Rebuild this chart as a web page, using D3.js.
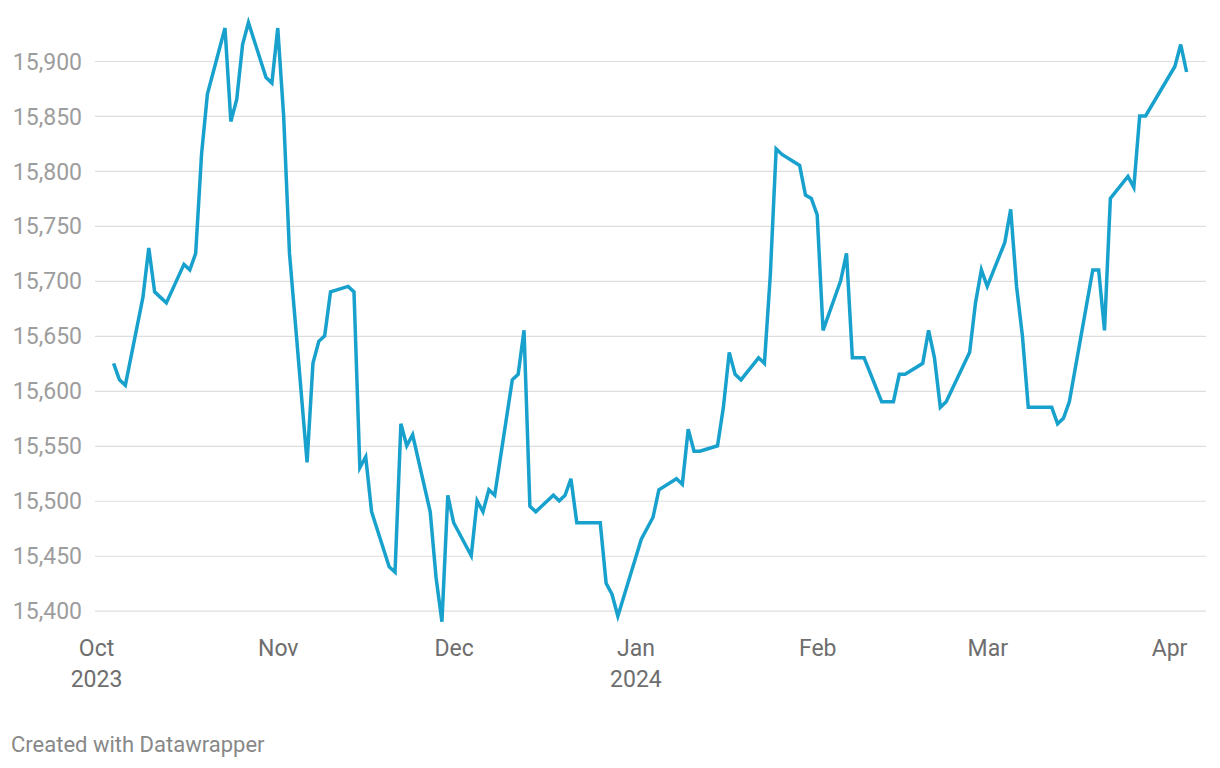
<!DOCTYPE html>
<html>
<head>
<meta charset="utf-8">
<script src="https://cdn.jsdelivr.net/npm/d3@7"></script>
<style>
  html, body { margin: 0; padding: 0; background: #fff; }
  svg { display: block; font-family: Roboto, "Noto Sans", sans-serif; }
</style>
</head>
<body>
<svg id="chart" width="1220" height="768"></svg>
<script>
// ---- data (USD/IDR-like daily series) ----
const dates = [
  "2023-10-04","2023-10-05","2023-10-06","2023-10-09","2023-10-10","2023-10-11","2023-10-12","2023-10-13",
  "2023-10-16","2023-10-17","2023-10-18","2023-10-19","2023-10-20","2023-10-23","2023-10-24","2023-10-25",
  "2023-10-26","2023-10-27","2023-10-30","2023-10-31","2023-11-01","2023-11-02","2023-11-03","2023-11-06",
  "2023-11-07","2023-11-08","2023-11-09","2023-11-10","2023-11-13","2023-11-14","2023-11-15","2023-11-16",
  "2023-11-17","2023-11-20","2023-11-21","2023-11-22","2023-11-23","2023-11-24","2023-11-27","2023-11-28",
  "2023-11-29","2023-11-30","2023-12-01","2023-12-04","2023-12-05","2023-12-06","2023-12-07","2023-12-08",
  "2023-12-11","2023-12-12","2023-12-13","2023-12-14","2023-12-15","2023-12-18","2023-12-19","2023-12-20",
  "2023-12-21","2023-12-22","2023-12-26","2023-12-27","2023-12-28","2023-12-29","2024-01-02","2024-01-03",
  "2024-01-04","2024-01-05","2024-01-08","2024-01-09","2024-01-10","2024-01-11","2024-01-12","2024-01-15",
  "2024-01-16","2024-01-17","2024-01-18","2024-01-19","2024-01-22","2024-01-23","2024-01-24","2024-01-25",
  "2024-01-26","2024-01-29","2024-01-30","2024-01-31","2024-02-01","2024-02-02","2024-02-05","2024-02-06",
  "2024-02-07","2024-02-09","2024-02-12","2024-02-14","2024-02-15","2024-02-16","2024-02-19","2024-02-20",
  "2024-02-21","2024-02-22","2024-02-23","2024-02-27","2024-02-28","2024-02-29","2024-03-01","2024-03-04",
  "2024-03-05","2024-03-06","2024-03-07","2024-03-08","2024-03-12","2024-03-13","2024-03-14","2024-03-15",
  "2024-03-18","2024-03-19","2024-03-20","2024-03-21","2024-03-22","2024-03-25","2024-03-26","2024-03-27",
  "2024-03-28","2024-04-02","2024-04-03","2024-04-04"
];
const values = [
  15625,15610,15605,15685,15730,15690,15685,15680,
  15715,15710,15725,15815,15870,15930,15845,15865,
  15915,15935,15885,15880,15930,15850,15725,15535,
  15625,15645,15650,15690,15695,15690,15530,15540,
  15490,15440,15435,15570,15550,15560,15490,15430,
  15390,15505,15480,15450,15500,15490,15510,15505,
  15610,15615,15655,15495,15490,15505,15500,15505,
  15520,15480,15480,15425,15415,15395,15465,15475,
  15485,15510,15520,15515,15565,15545,15545,15550,
  15585,15635,15615,15610,15630,15625,15705,15820,
  15815,15805,15778,15775,15760,15655,15700,15725,
  15630,15630,15590,15590,15615,15615,15625,15655,
  15630,15585,15590,15635,15680,15710,15695,15735,
  15765,15695,15650,15585,15585,15570,15575,15590,
  15680,15710,15710,15655,15775,15795,15785,15850,
  15850,15895,15915,15890
];
const yTicks = [15400, 15450, 15500, 15550, 15600, 15650, 15700, 15750, 15800, 15850, 15900];
const xTicks = ["2023-10-01","2023-11-01","2023-12-01","2024-01-01","2024-02-01","2024-03-01","2024-04-01"];
const monthLabels = ["Oct","Nov","Dec","Jan","Feb","Mar","Apr"];
const yearLabels  = ["2023","","","2024","","",""];
const footerText = "Created with Datawrapper";

// ---- build ----
const parse = d3.timeParse("%Y-%m-%d");
const data = dates.map((d, i) => ({ date: parse(d), value: values[i] }));
const tickDates = xTicks.map(parse);

const svg = d3.select("#chart");
const plotLeft = 95, plotRight = 1206;

const x = d3.scaleTime()
  .domain([tickDates[0], tickDates[tickDates.length - 1]])
  .range([96, 1169]);
const y = d3.scaleLinear()
  .domain([15400, 15900])
  .range([610.7, 61]);

// y axis with gridlines
const yAxis = d3.axisLeft(y)
  .tickValues(yTicks)
  .tickSize(-(plotRight - plotLeft))
  .tickPadding(13)
  .tickFormat(d3.format(","));
const gy = svg.append("g")
  .attr("transform", `translate(${plotLeft},0)`)
  .call(yAxis);
gy.select(".domain").remove();
gy.selectAll(".tick line").attr("stroke", "#dedede").attr("stroke-width", 1.2);
gy.selectAll(".tick text")
  .attr("fill", "#9d9d9d")
  .style("font-size", "23px")
  .attr("dy", "0.35em")
  .attr("font-family", "Roboto");

// x axis (month labels, year on second line)
const xAxis = d3.axisBottom(x)
  .tickValues(tickDates)
  .tickSize(0)
  .tickPadding(0)
  .tickFormat((d, i) => monthLabels[i]);
const gx = svg.append("g")
  .attr("transform", `translate(0,0)`)
  .call(xAxis);
gx.select(".domain").remove();
gx.selectAll(".tick text")
  .attr("y", 656)
  .attr("dy", 0)
  .attr("fill", "#6e6e6e")
  .style("font-size", "23px")
  .attr("font-family", "Roboto");
gx.selectAll(".tick").each(function (d, i) {
  if (yearLabels[i]) {
    d3.select(this).append("text")
      .attr("y", 687)
      .attr("fill", "#6e6e6e")
      .attr("text-anchor", "middle")
      .style("font-size", "23px")
      .attr("font-family", "Roboto")
      .text(yearLabels[i]);
  }
});

// line
const line = d3.line()
  .x(d => x(d.date))
  .y(d => y(d.value));
svg.append("path")
  .datum(data)
  .attr("fill", "none")
  .attr("stroke", "#18a1cd")
  .attr("stroke-width", 3.5)
  .attr("stroke-linejoin", "miter")
  .attr("d", line);

// footer
svg.append("text")
  .attr("x", 11)
  .attr("y", 752)
  .attr("fill", "#888888")
  .style("font-size", "22px")
  .attr("font-family", "Roboto")
  .text(footerText);
</script>
</body>
</html>
